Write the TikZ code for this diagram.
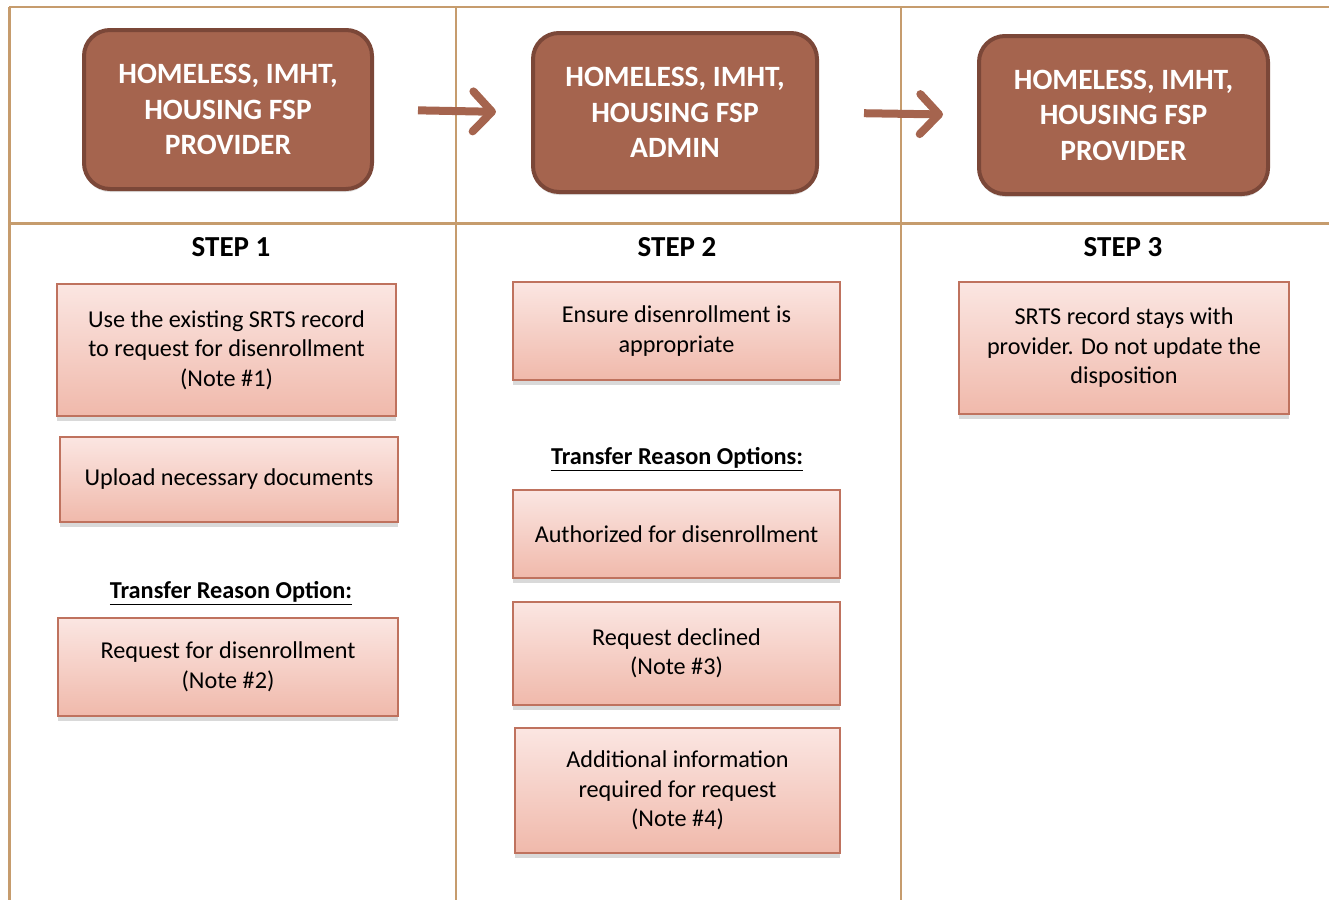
\documentclass[tikz,border=0pt]{standalone}
\usepackage{fontspec}
\setmainfont{Carlito}
\usetikzlibrary{arrows.meta,shadows}
\definecolor{gridc}{HTML}{C69C6D}
\definecolor{hdrfill}{HTML}{A5644E}
\definecolor{hdrdraw}{HTML}{7B4738}
\definecolor{ptop}{HTML}{FBE6E2}
\definecolor{pbot}{HTML}{F0B9AB}
\definecolor{pdraw}{HTML}{BF725E}
\tikzset{
  gridline/.style={draw=gridc, line width=2.5pt},
  hdr/.style={rectangle, rounded corners=26pt, fill=hdrfill, draw=hdrdraw, line width=4pt,
    text=white, align=center, inner sep=0pt,
    font=\fontsize{29.5}{35.5}\selectfont\bfseries,
    drop shadow={shadow xshift=0pt, shadow yshift=-3pt, opacity=0.25}},
  pbox/.style={rectangle, draw=pdraw, line width=1.5pt, top color=ptop, bottom color=pbot,
    align=center, inner sep=0pt, font=\fontsize{24.2}{29.5}\selectfont,
    drop shadow={shadow xshift=0pt, shadow yshift=-5pt, opacity=0.3}},
  steplabel/.style={font=\fontsize{29}{32}\selectfont\bfseries, inner sep=0pt},
  optlabel/.style={font=\fontsize{24.3}{28}\selectfont\bfseries, inner sep=0pt},
  arr/.style={draw=hdrfill, line width=8pt, -{Straight Barb[length=19pt,width=40pt,round]}}
}
\begin{document}
\begin{tikzpicture}[x=1pt,y=-1pt]
\useasboundingbox (0,0) rectangle (1329,900);
% grid
\draw[gridline] (9,7) -- (1329,7);
\draw[gridline, line width=3pt] (9,223.5) -- (1329,223.5);
\draw[gridline] (9.5,7) -- (9.5,900);
\draw[gridline] (456,7) -- (456,900);
\draw[gridline] (901,7) -- (901,900);
% headers
\node[hdr, minimum width=288, minimum height=159] (h1) at (228,109.5) {HOMELESS, IMHT,\\HOUSING FSP\\PROVIDER};
\node[hdr, minimum width=284, minimum height=159] (h2) at (675,112.5) {HOMELESS, IMHT,\\HOUSING FSP\\ADMIN};
\node[hdr, minimum width=289, minimum height=158] (h3) at (1123.5,115) {HOMELESS, IMHT,\\HOUSING FSP\\PROVIDER};
\draw[arr, shorten <=44pt, shorten >=35pt] (h1.east) -- (h2.west);
\draw[arr, shorten <=45pt, shorten >=34pt] (h2.east) -- (h3.west);
% step labels
\node[steplabel] (s1) at (231,247) {STEP 1};
\node[steplabel] (s2) at (677,247) {STEP 2};
\node[steplabel] (s3) at (1123,247) {STEP 3};
% column 1
\node[pbox, minimum width=339, minimum height=132] (b1) at (226.5,350) {Use the existing SRTS record\\to request for disenrollment\\(Note \#1)};
\node[pbox, minimum width=338, minimum height=85] (b2) at (229,479.5) {Upload necessary documents};
\node[optlabel] (o1) at (231,593) {\underline{Transfer Reason Option:}};
\node[pbox, minimum width=340, minimum height=98] (b3) at (228,667) {Request for disenrollment\\(Note \#2)};
% column 2
\node[pbox, minimum width=327, minimum height=98] (c1) at (676.5,331) {Ensure disenrollment is\\appropriate};
\node[optlabel] (o2) at (677,459) {\underline{Transfer Reason Options:}};
\node[pbox, minimum width=327, minimum height=88] (c2) at (676.5,534) {Authorized for disenrollment};
\node[pbox, minimum width=327, minimum height=103] (c3) at (676.5,653.5) {Request declined\\(Note \#3)};
\node[pbox, minimum width=325, minimum height=125] (c4) at (677.5,790.5) {Additional information\\required for request\\(Note \#4)};
% column 3
\node[pbox, minimum width=330, minimum height=132] (d1) at (1124,348) {SRTS record stays with\\provider. Do not update the\\disposition};
\end{tikzpicture}
\end{document}
